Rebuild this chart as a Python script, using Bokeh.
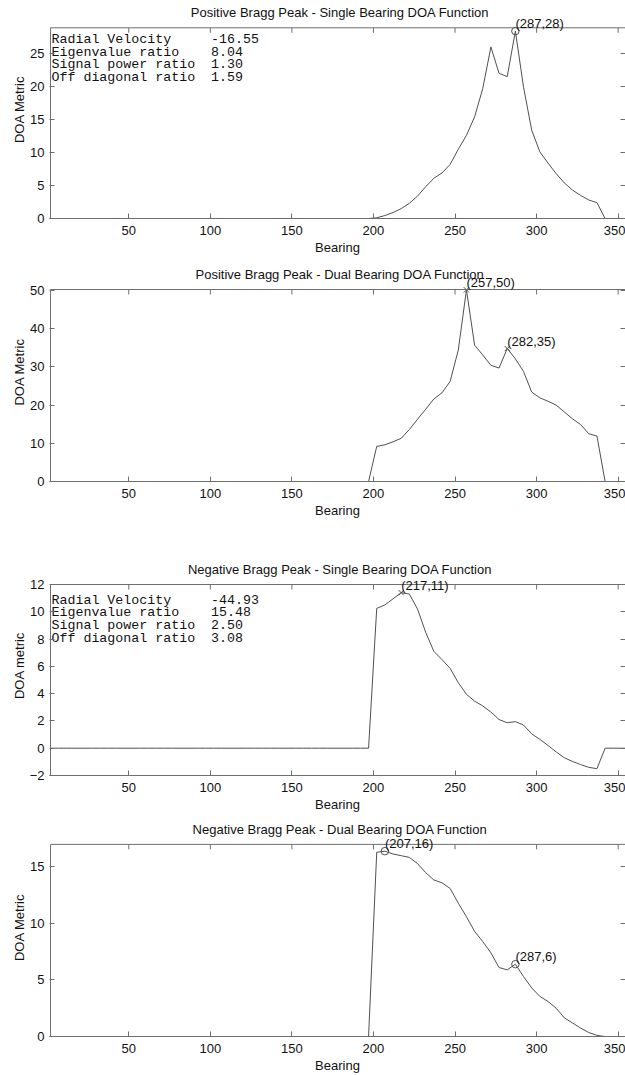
from bokeh.plotting import figure
from bokeh.models import (Range1d, LinearAxis, FixedTicker, ColumnDataSource, Label,
                          BoxAnnotation)
from bokeh.layouts import column
from bokeh.embed import file_html
from bokeh.resources import INLINE
from bokeh.core.properties import value

# ---------------- data ----------------
bearing = [2, 7, 12, 17, 22, 27, 32, 37, 42, 47, 52, 57, 62, 67, 72, 77, 82, 87,
           92, 97, 102, 107, 112, 117, 122, 127, 132, 137, 142, 147, 152, 157,
           162, 167, 172, 177, 182, 187, 192, 197, 202, 207, 212, 217, 222, 227,
           232, 237, 242, 247, 252, 257, 262, 267, 272, 277, 282, 287, 292, 297,
           302, 307, 312, 317, 322, 327, 332, 337, 342, 347, 352, 357]

zeros_head = [0] * 39  # bearings 2..192 carry a zero metric

pos_single = zeros_head + [0, 0.1, 0.45, 0.9, 1.5, 2.3, 3.4, 4.8, 6.1, 6.9,
                           8.2, 10.5, 12.6, 15.4, 19.7, 26.0, 22.0, 21.5, 28.4, 19.9,
                           13.4, 10.1, 8.4, 6.8, 5.4, 4.3, 3.5, 2.8, 2.4, 0,
                           0, 0, 0]
pos_dual = zeros_head + [0, 9.2, 9.6, 10.4, 11.3, 13.6, 16.3, 18.9, 21.6, 23.2,
                         26.2, 34.4, 50.15, 35.7, 33.1, 30.4, 29.7, 34.8, 32.1, 28.8,
                         23.4, 21.9, 21.0, 20.0, 18.2, 16.4, 14.9, 12.5, 11.9, 0,
                         0, 0, 0]
neg_single = zeros_head + [0, 10.25, 10.5, 10.95, 11.4, 11.3, 10.2, 8.5, 7.1, 6.5,
                           5.85, 4.8, 3.95, 3.45, 3.1, 2.65, 2.1, 1.87, 1.95, 1.7,
                           1.05, 0.65, 0.2, -0.27, -0.7, -0.97, -1.2, -1.4, -1.5, 0,
                           0, 0, 0]
neg_dual = zeros_head + [0, 16.3, 16.4, 16.15, 16.0, 15.85, 15.3, 14.5, 13.85, 13.6,
                         13.1, 11.8, 10.6, 9.3, 8.4, 7.4, 6.1, 5.9, 6.4, 5.3,
                         4.3, 3.55, 3.1, 2.5, 1.65, 1.2, 0.75, 0.35, 0.1, 0,
                         0, 0, 0]

peaks_pos_single = [287]
peaks_pos_dual = [257, 282]
peaks_neg_single = [217]
peaks_neg_dual = [207, 287]

info_names = ["Radial Velocity", "Eigenvalue ratio", "Signal power ratio", "Off diagonal ratio"]
pos_info = ["-16.55", "8.04", "1.30", "1.59"]
neg_info = ["-44.93", "15.48", "2.50", "3.08"]

titles = ["Positive Bragg Peak - Single Bearing DOA Function",
          "Positive Bragg Peak - Dual Bearing DOA Function",
          "Negative Bragg Peak - Single Bearing DOA Function",
          "Negative Bragg Peak - Dual Bearing DOA Function"]
ylabels = ["DOA Metric", "DOA Metric", "DOA metric", "DOA Metric"]
x_lim = (2, 357)
x_ticks = [50, 100, 150, 200, 250, 300, 350]
y_ticks = [[0, 5, 10, 15, 20, 25],
           [0, 10, 20, 30, 40, 50],
           [-2, 0, 2, 4, 6, 8, 10, 12],
           [0, 5, 10, 15]]
y_lims = [(0, 28.9), (0, 50.25), (-2, 12), (0, 17)]

FONT = "Liberation Sans"
MONO = "Liberation Mono"
AX = "#6e6e6e"
LINE = "#505050"
TXT = "#111111"
NBSP = "\u00a0"
TICK_PX = 5


def panel(title, ylab, series, peaks, marker, yt, ylim, height, box_top, bottom,
          info=None, info_dy=4):
    frame_h = height - bottom
    ymin, ymax = ylim
    # the frame reaches the top of the canvas; the axes box occupies its lower part
    y_end = ymin + (ymax - ymin) * frame_h / (frame_h - box_top)
    px_per_unit = (frame_h - box_top) / (ymax - ymin)
    p = figure(width=625, height=height, x_range=Range1d(1.4, 354.5),
               y_range=Range1d(ymin, y_end), output_backend="svg", toolbar_location=None,
               min_border_left=49, min_border_right=0, min_border_top=0,
               min_border_bottom=bottom)
    p.grid.visible = False
    p.outline_line_color = None
    p.background_fill_color = "white"
    p.border_fill_color = "white"

    for ax, ticks in ((p.xaxis[0], x_ticks), (p.yaxis[0], yt)):
        ax.ticker = FixedTicker(ticks=ticks)
        ax.major_tick_in = TICK_PX
        ax.major_tick_out = 0
        ax.minor_tick_line_color = None
        ax.major_tick_line_color = AX
        ax.major_label_text_font = FONT
        ax.major_label_text_font_size = "13px"
        ax.major_label_text_color = TXT
        ax.axis_label_text_font = FONT
        ax.axis_label_text_font_size = "13px"
        ax.axis_label_text_font_style = "normal"
        ax.axis_label_text_color = TXT
    p.xaxis[0].axis_line_color = AX
    p.yaxis[0].axis_line_color = None
    p.xaxis[0].axis_label = "Bearing"
    p.xaxis[0].major_label_standoff = 7
    p.xaxis[0].axis_label_standoff = 2
    p.yaxis[0].axis_label = ylab
    p.yaxis[0].major_label_standoff = 5
    p.yaxis[0].axis_label_standoff = 0

    # inward ticks on the right side of the box
    rax = LinearAxis(ticker=FixedTicker(ticks=yt), major_tick_in=TICK_PX, major_tick_out=0,
                     minor_tick_line_color=None, axis_line_color=None,
                     major_tick_line_color=AX, major_label_text_font_size="0px",
                     major_label_standoff=0, major_label_text_alpha=0)
    p.add_layout(rax, "right")

    # axes box
    p.add_layout(BoxAnnotation(left=x_lim[0], right=x_lim[1], bottom=ymin, top=ymax,
                               fill_alpha=0, line_color=AX, line_width=1, line_alpha=1))
    # inward ticks hanging from the top of the box
    tick_len = TICK_PX / px_per_unit
    p.segment(x0=x_ticks, y0=[ymax] * len(x_ticks), x1=x_ticks,
              y1=[ymax - tick_len] * len(x_ticks), line_color=AX, line_width=1)

    # title centred over the axes box
    p.add_layout(Label(x=(x_lim[0] + x_lim[1]) / 2, y=ymax, text=title, text_font=FONT,
                       text_font_size="13px", text_color=TXT, text_align="center",
                       text_baseline="middle", y_offset=15))

    p.line(bearing, series, line_color=LINE, line_width=1)

    idx = [bearing.index(b) for b in peaks]
    pv = [series[i] for i in idx]
    src = ColumnDataSource(dict(x=peaks, y=pv))
    p.scatter("x", "y", source=src, marker=marker, size=7.5, fill_color=None,
              line_color=LINE, line_width=1)
    for b, v in zip(peaks, pv):
        p.add_layout(Label(x=b, y=v, text="(%d,%d)" % (b, round(v)), text_font=FONT,
                           text_font_size="13px", text_color=TXT, text_align="left",
                           text_baseline="bottom", x_offset=0, y_offset=0))

    if info is not None:
        block = "\n".join((n.ljust(20) + v).replace(" ", NBSP) for n, v in zip(info_names, info))
        p.text(x=[x_lim[0]], y=[ymax], text=[block], text_font=value(MONO),
               text_font_size="13.3px", text_color=TXT, text_align="left",
               text_baseline="top", x_offset=1, y_offset=info_dy, text_line_height=0.85)
    return p


p1 = panel(titles[0], ylabels[0], pos_single, peaks_pos_single, "circle", y_ticks[0], y_lims[0],
           262, 27.3, 44, info=pos_info, info_dy=4)
p2 = panel(titles[1], ylabels[1], pos_dual, peaks_pos_dual, "x", y_ticks[1], y_lims[1],
           293, 27, 74)
p3 = panel(titles[2], ylabels[2], neg_single, peaks_neg_single, "x", y_ticks[2], y_lims[2],
           263, 29, 43, info=neg_info, info_dy=8)
p4 = panel(titles[3], ylabels[3], neg_dual, peaks_neg_dual, "circle", y_ticks[3], y_lims[3],
           257, 26, 38)

layout = column(p1, p2, p3, p4, spacing=0)
open("out.html", "w").write(file_html(layout, INLINE))
